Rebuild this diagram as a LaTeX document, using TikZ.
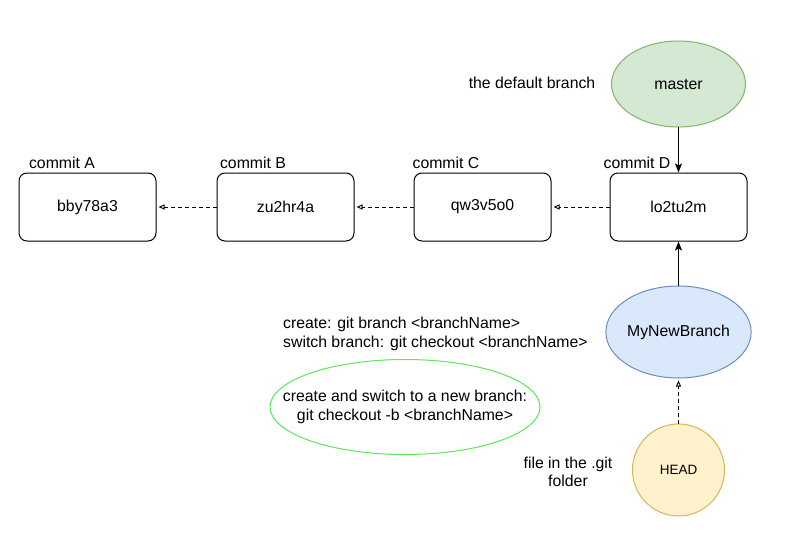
\documentclass[tikz,border=0pt]{standalone}
\usepackage{fontspec}
\setmainfont{Liberation Sans}
\usepackage{xcolor}
\usetikzlibrary{arrows.meta,positioning,shapes.geometric}
\definecolor{mastergreen}{HTML}{D5E8D4}
\definecolor{masterline}{HTML}{82B366}
\definecolor{branchblue}{HTML}{DAE8FC}
\definecolor{branchline}{HTML}{6C8EBF}
\definecolor{headyellow}{HTML}{FFF2CC}
\definecolor{headline}{HTML}{D6B656}
\definecolor{notegreen}{HTML}{5CE65C}

\tikzset{
  txt/.style={font=\fontsize{15.8}{18.5}\selectfont},
  commitbox/.style={txt,draw,line width=1pt,rounded corners=8pt,minimum width=137pt,minimum height=68pt},
  blob/.style={txt,ellipse,draw,line width=1pt,inner sep=0pt},
  parent/.style={draw,line width=0.9pt,dash pattern=on 4pt off 3pt,-{Triangle[open,length=6pt,width=5pt]},shorten >=2pt},
  points/.style={draw,line width=1pt,-{Stealth[length=9pt,width=7pt,inset=2pt]}}
}

\begin{document}
\begin{tikzpicture}[x=1pt,y=-1pt]
  \useasboundingbox (0,0) rectangle (810,540);
  % commits
  \node[commitbox] (cA) at (87.5,207) {bby78a3};
  \node[commitbox] (cB) at (285.5,207) {zu2hr4a};
  \node[commitbox] (cC) at (482.5,207) {qw3v5o0};
  \node[commitbox] (cD) at (678.5,207) {lo2tu2m};
  \node[txt,anchor=base] (labA) at (62,168) {commit A};
  \node[txt,anchor=base] (labB) at (253,168) {commit B};
  \node[txt,anchor=base] (labC) at (446,168) {commit C};
  \node[txt,anchor=base] (labD) at (637,168) {commit D};
  \draw[parent] (cB) -- (cA);
  \draw[parent] (cC) -- (cB);
  \draw[parent] (cD) -- (cC);

  % branches
  \node[blob,fill=mastergreen,draw=masterline,minimum width=134pt,minimum height=86pt] (master) at (678.5,84) {master};
  \node[txt] (deflabel) at (532,83) {the default branch};
  \node[blob,fill=branchblue,draw=branchline,minimum width=134pt,minimum height=92pt] (newbranch) at (678.5,332) {MyNewBranch};
  \node[circle,draw=headline,fill=headyellow,line width=1pt,minimum size=92pt,inner sep=0pt,font=\fontsize{13.5}{16}\selectfont] (head) at (678.5,470) {HEAD};
  \draw[points] (master) -- (cD);
  \draw[points] (newbranch) -- (cD);
  \draw[parent] (head) -- (newbranch);

  % notes
  \node[txt,anchor=west,align=left,inner sep=0pt] (cmds) at (283,334)
    {create: git branch <branchName>\\switch branch: git checkout <branchName>};
  \node[blob,draw=notegreen,align=center,inner xsep=-40pt,minimum width=270pt,minimum height=95pt] (shortcut) at (405,407)
    {create and switch to a new branch:\\git checkout -b <branchName>};
  \node[txt,align=center] (headlabel) at (568,472) {file in the .git\\folder};
\end{tikzpicture}
\end{document}
